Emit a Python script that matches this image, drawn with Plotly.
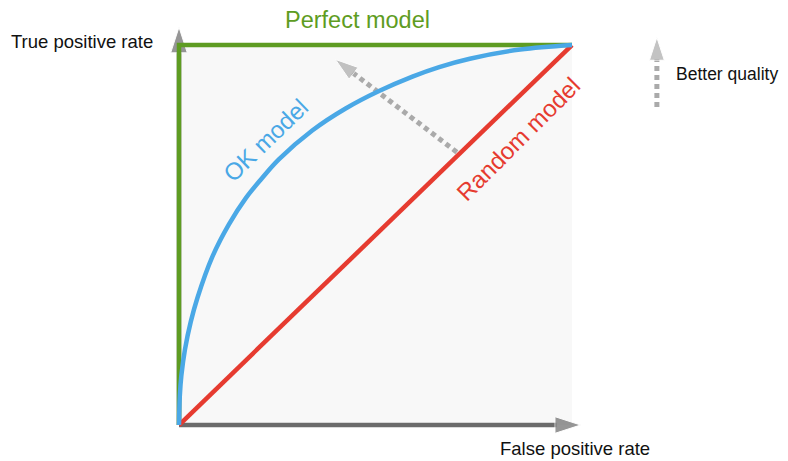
"""ROC curve sketch: perfect, OK and random models."""
import plotly.graph_objects as go

GREEN = "#5e9c22"
BLUE = "#4aa8e6"
RED = "#e63b30"
AXIS = "#6b6b6b"
DOTS = "#aaaaaa"
INK = "#111111"
FONT = "Liberation Sans, Arial, sans-serif"

# curve values (false positive rate -> true positive rate)
OK_FPR = [0, 0.002, 0.006, 0.015, 0.03, 0.047, 0.085, 0.127, 0.17, 0.21,
          0.254, 0.339, 0.424, 0.509, 0.594, 0.662, 0.74, 0.868, 1.0]
OK_TPR = [0, 0.075, 0.13, 0.198, 0.272, 0.335, 0.443, 0.528, 0.597, 0.648,
          0.699, 0.775, 0.833, 0.879, 0.917, 0.942, 0.964, 0.988, 1.0]
RANDOM_FPR = [0, 1]
RANDOM_TPR = [0, 1]
PERFECT_FPR = [0, 0, 1]
PERFECT_TPR = [0, 1, 1]

# decorations: axis arrows and "better quality" arrows, in data units
X_ARROW = ([0, 1.022], [0, 0])
Y_ARROW = ([0, 0], [0, 1.047])
QUALITY_ARROW = ([0.707, 0.398], [0.718, 0.962])
LEGEND_ARROW = ([1.216, 1.216], [0.837, 1.02])

# full-canvas axis ranges: the page body has an 8px margin, so the figure is
# 780x453 and the unit square lands where the sketch has it
X_RANGE = [-0.4351, 1.5496]
Y_RANGE = [-0.0947, 1.0974]

fig = go.Figure()
fig.add_shape(type="rect", x0=0, y0=0, x1=1, y1=1, fillcolor="#f8f8f8",
              line_width=0, layer="below")


def arrow(xy, color, width, dash="solid", head=20):
    fig.add_scatter(x=xy[0], y=xy[1], mode="lines+markers", hoverinfo="skip",
                    showlegend=False, line=dict(color=color, width=width, dash=dash),
                    marker=dict(symbol="arrow", angleref="previous",
                                size=[0, head], color=color))


arrow(X_ARROW, AXIS, 4.5, head=27)
arrow(Y_ARROW, AXIS, 4.5, head=27)
arrow(QUALITY_ARROW, DOTS, 5, dash="5px,4px", head=24)
arrow(LEGEND_ARROW, DOTS, 5, dash="5px,4px", head=24)

fig.add_scatter(x=PERFECT_FPR, y=PERFECT_TPR, mode="lines", showlegend=False,
                line=dict(color=GREEN, width=4.5))
fig.add_scatter(x=RANDOM_FPR, y=RANDOM_TPR, mode="lines", showlegend=False,
                line=dict(color=RED, width=4.5))
fig.add_scatter(x=OK_FPR, y=OK_TPR, mode="lines", showlegend=False,
                line=dict(color=BLUE, width=4.5, shape="spline", smoothing=1))

labels = [
    ("Perfect model", 0.455, 1.066, 0, GREEN, 23.5),
    ("OK model", 0.219, 0.75, -44, BLUE, 24),
    ("Random model", 0.865, 0.753, -45, RED, 24),
    ("True positive rate", -0.247, 1.0105, 0, INK, 18.5),
    ("False positive rate", 1.008, -0.063, 0, INK, 18.5),
    ("Better quality", 1.394, 0.924, 0, INK, 17.5),
]
for text, x, y, angle, color, size in labels:
    fig.add_annotation(x=x, y=y, text=text, showarrow=False, textangle=angle,
                       font=dict(color=color, size=size, family=FONT))

fig.update_layout(
    width=780, height=453, margin=dict(l=0, r=0, t=0, b=0),
    paper_bgcolor="white", plot_bgcolor="white",
    xaxis=dict(range=X_RANGE, visible=False, fixedrange=True),
    yaxis=dict(range=Y_RANGE, visible=False, fixedrange=True),
)
fig.write_html("out.html")
